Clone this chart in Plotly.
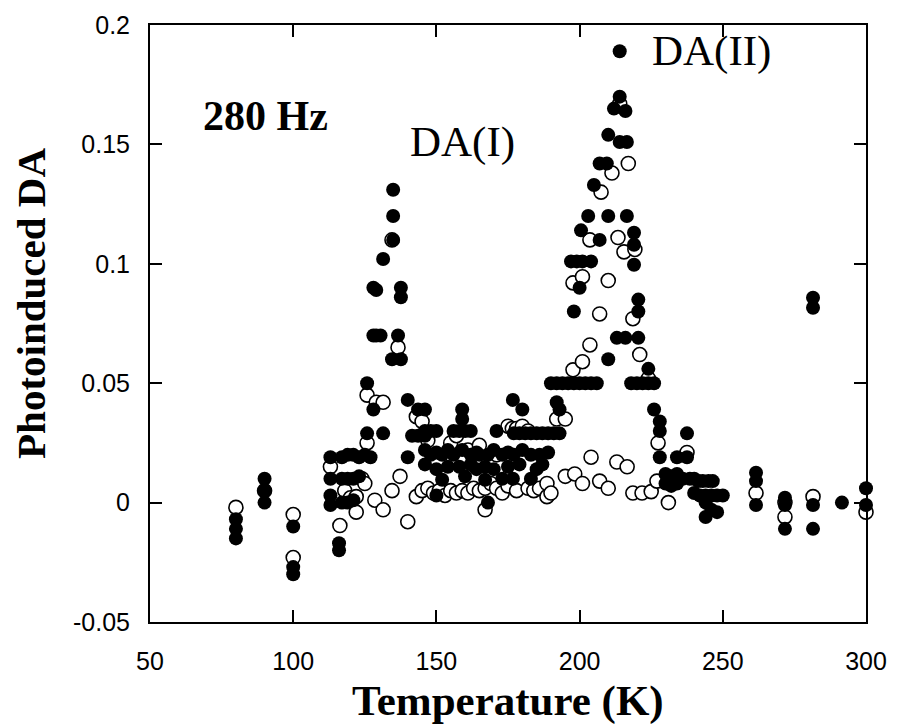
import plotly.graph_objects as go

# Filled circles (T in K, photoinduced DA)
filled_T = [
    80, 80, 80, 90, 90, 90, 100, 100, 100,
    113, 113, 113, 113, 116, 116, 117, 117, 117, 119, 119, 119, 121, 121, 121,
    123, 123, 125, 125.8, 125.8, 127, 128, 128, 128, 129, 129, 130.5, 131.4, 131.4,
    134.9, 134.9, 134.9, 134.5, 136.6, 137.6, 137.6, 137.6, 140, 140, 141.5,
    143.6, 143.6, 146, 146, 146, 146, 146, 148, 148, 150, 150, 150, 150,
    152, 152, 154, 154, 156, 156, 158, 158, 159, 159, 159, 160, 160,
    162, 162, 162, 164, 164, 165, 167, 167, 168, 168, 170, 170, 171, 173, 173,
    175, 175, 176.7, 176.7, 177, 177, 179, 179, 180, 180, 181, 183, 183, 183,
    185, 185, 186, 187, 187, 189, 189, 190, 191, 192, 192, 193, 193, 194, 196,
    197, 198, 198, 199, 200, 200, 200.5, 201, 202, 203, 204, 204, 205, 206,
    207, 207, 209.5, 210, 210, 210, 212, 213, 214, 214, 214, 216, 216,
    216.5, 216.5, 218, 219, 219, 219, 220, 220.5, 220.5, 220.5, 222, 224, 224,
    226, 226, 228, 228, 228, 230, 230, 232, 232, 234, 234, 234, 236,
    237.5, 237.5, 238.5, 240, 240, 241.5, 242, 243, 244, 244, 244, 245,
    246, 246, 246.5, 248, 248, 250,
    261.6, 261.6, 261.6, 271.7, 271.7, 271.7, 281.5, 281.5, 281.5, 281.5,
    291.6, 300, 300,
]
filled_DA = [
    -0.015, -0.011, -0.007, 0.010, 0.005, 0.0, -0.010, -0.027, -0.030,
    0.019, 0.010, 0.003, -0.001, -0.017, -0.020, 0.019, 0.010, 0.0, 0.020, 0.010, 0.0, 0.020, 0.010, 0.001,
    0.019, 0.011, 0.020, 0.029, 0.050, 0.019, 0.090, 0.070, 0.039, 0.089, 0.070, 0.070, 0.102, 0.029,
    0.131, 0.120, 0.110, 0.060, 0.070, 0.090, 0.086, 0.060, 0.043, 0.019, 0.028,
    0.039, 0.028, 0.039, 0.030, 0.028, 0.022, 0.016, 0.030, 0.020, 0.030, 0.021, 0.014, 0.003,
    0.0096, 0.020, 0.022, 0.015, 0.030, 0.020, 0.030, 0.015, 0.039, 0.035, 0.022, 0.030, 0.011,
    0.030, 0.020, 0.016, 0.021, 0.014, 0.020, 0.0096, 0.015, 0.020, 0.0, 0.022, 0.014, 0.030, 0.020, 0.010,
    0.015, 0.021, 0.043, 0.010, 0.029, 0.020, 0.029, 0.016, 0.039, 0.022, 0.029, 0.029, 0.010, 0.020,
    0.029, 0.014, 0.020, 0.029, 0.016, 0.029, 0.021, 0.050, 0.029, 0.050, 0.042, 0.039, 0.029, 0.050, 0.050,
    0.101, 0.050, 0.080, 0.101, 0.050, 0.090, 0.114, 0.101, 0.050, 0.120, 0.050, 0.101, 0.133, 0.050,
    0.110, 0.142, 0.142, 0.154, 0.120, 0.060, 0.165, 0.069, 0.189, 0.170, 0.151, 0.164, 0.069,
    0.151, 0.120, 0.050, 0.113, 0.108, 0.0996, 0.050, 0.085, 0.080, 0.069, 0.050, 0.056, 0.050,
    0.050, 0.039, 0.034, 0.030, 0.019, 0.012, 0.008, 0.011, 0.007, 0.019, 0.012, 0.008, 0.010,
    0.029, 0.019, 0.010, 0.010, 0.004, 0.009, 0.003, 0.009, 0.003, 0.0, -0.006, 0.009,
    0.003, -0.003, 0.009, 0.003, -0.004, 0.003,
    0.0125, 0.009, -0.001, 0.002, -0.001, -0.011, 0.0858, 0.0816, -0.001, -0.011,
    0.0, 0.006, -0.001,
]

# Open circles (T in K, photoinduced DA)
open_T = [
    80, 90, 100, 100, 113, 116.3, 118, 120, 122, 122, 124, 125, 125.8, 125.8,
    128.5, 129, 131.4, 131.4, 134.5, 134.5, 136.6, 137.3, 140, 143, 143,
    145, 145, 147, 147, 149, 151, 153, 155, 155, 157, 157, 159, 161, 161,
    163, 165, 165, 167, 167, 169, 171, 171, 173, 175, 175, 176.5, 178, 178,
    180, 182, 182, 184, 186, 188.6, 188.6, 190, 192, 195, 195,
    197.7, 197.7, 198.3, 201, 201, 201, 203.6, 203.6, 204, 207, 207, 207.5,
    210, 210, 211.3, 213, 213.4, 214, 215.5, 216.6, 217, 218.6, 218.6, 219.3,
    221, 221.8, 224, 225, 227, 227.4, 231, 237.5,
    261.6, 271.7, 271.7, 281.5, 300,
]
open_DA = [
    -0.002, 0.005, -0.005, -0.023, 0.015, -0.0096, 0.005, 0.002, 0.0025, -0.004, 0.010, 0.008, 0.025, 0.045,
    0.001, 0.042, 0.042, -0.003, 0.005, 0.110, 0.065, 0.011, -0.008, 0.0025, 0.036,
    0.034, 0.005, 0.026, 0.006, 0.004, 0.005, 0.003, 0.005, 0.025, 0.004, 0.028, 0.005, 0.004, 0.022,
    0.006, 0.005, 0.024, -0.003, 0.006, 0.008, 0.006, 0.020, 0.004, 0.007, 0.032, 0.031, 0.005, 0.031,
    0.032, 0.006, 0.030, 0.005, 0.006, 0.0025, 0.008, 0.004, 0.035, 0.035, 0.011,
    0.0556, 0.092, 0.012, 0.059, 0.0946, 0.008, 0.066, 0.110, 0.019, 0.079, 0.009, 0.130,
    0.093, 0.006, 0.138, 0.017, 0.111, 0.167, 0.105, 0.015, 0.142, 0.077, 0.004, 0.106,
    0.062, 0.004, 0.052, 0.0046, 0.009, 0.025, 0.0, 0.021,
    0.004, 0.0, -0.006, 0.0025, -0.004,
]

x_ticks = [50, 100, 150, 200, 250, 300]
y_ticks = [-0.05, 0, 0.05, 0.1, 0.15, 0.2]
y_tick_labels = ["-0.05", "0", "0.05", "0.1", "0.15", "0.2"]

fig = go.Figure()
fig.add_trace(go.Scatter(
    x=open_T, y=open_DA, mode="markers", name="open",
    marker=dict(symbol="circle", size=14, color="white",
                line=dict(color="black", width=1.6)),
    cliponaxis=False,
))
fig.add_trace(go.Scatter(
    x=filled_T, y=filled_DA, mode="markers", name="filled",
    marker=dict(symbol="circle", size=14, color="black",
                line=dict(color="black", width=0)),
    cliponaxis=False,
))

serif = "Liberation Serif"
fig.add_annotation(x=90.5, y=0.162, text="<b>280 Hz</b>", showarrow=False,
                   font=dict(family=serif, size=42, color="black"))
fig.add_annotation(x=159, y=0.151, text="DA(I)", showarrow=False,
                   font=dict(family=serif, size=43, color="black"))
fig.add_annotation(x=246, y=0.189, text="DA(II)", showarrow=False,
                   font=dict(family=serif, size=43, color="black"))

# axis titles placed as paper-referenced text
fig.add_annotation(xref="paper", yref="paper", x=0.5, y=-0.133,
                   text="<b>Temperature (K)</b>", showarrow=False,
                   xanchor="center", yanchor="middle",
                   font=dict(family=serif, size=43, color="black"))
fig.add_annotation(xref="paper", yref="paper", x=-0.166, y=0.533,
                   text="<b>Photoinduced DA</b>", showarrow=False, textangle=-90,
                   xanchor="center", yanchor="middle",
                   font=dict(family=serif, size=41, color="black"))

axis_common = dict(
    showline=True, linewidth=2, linecolor="black", mirror="ticks",
    ticks="inside", ticklen=12, tickwidth=1.5, tickcolor="black",
    showgrid=False, zeroline=False, automargin=False,
    tickfont=dict(family="Liberation Sans", size=25, color="black"),
)
fig.update_xaxes(range=[50, 300], tickvals=x_ticks, ticklabelstandoff=16,
                 **axis_common)
fig.update_yaxes(range=[-0.05, 0.2], tickvals=y_ticks, ticktext=y_tick_labels,
                 ticklabelstandoff=13, **axis_common)
# the page body adds an 8px offset, so the figure is sized to fit the window
fig.update_layout(
    width=895, height=720,
    margin=dict(l=142, r=37, t=17, b=106),
    plot_bgcolor="white", paper_bgcolor="white",
    showlegend=False,
)
fig.write_html("out.html")
